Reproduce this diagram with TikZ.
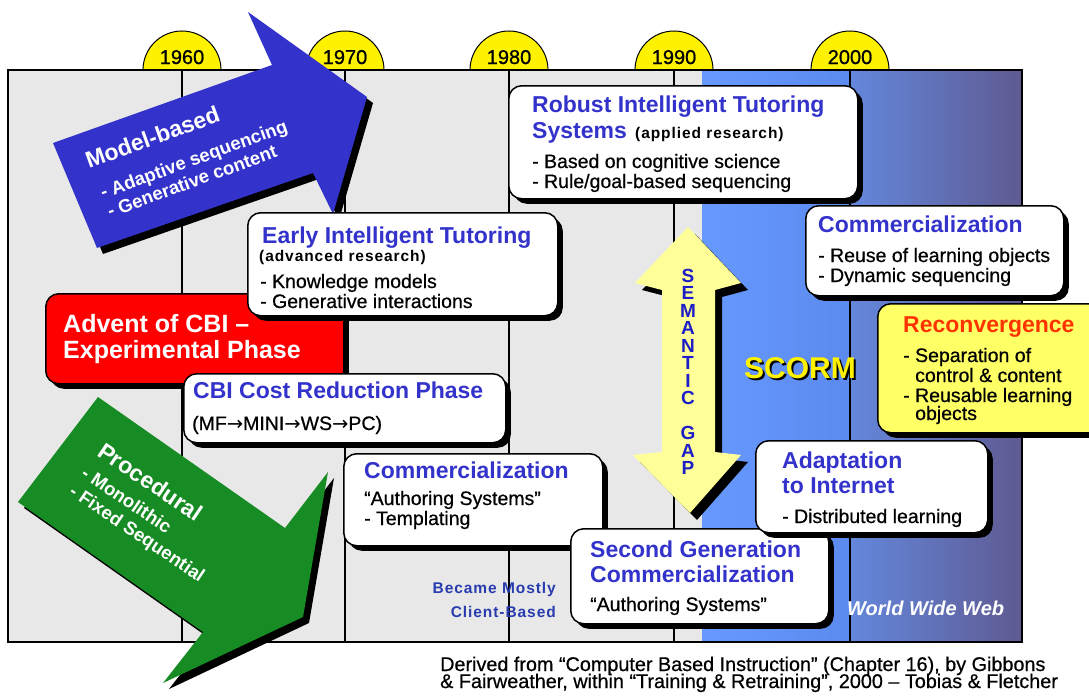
\documentclass[tikz,border=0pt]{standalone}
\usepackage{fontspec}
\setmainfont{Liberation Sans}
\newfontfamily\arrowfont{DejaVu Sans}
\usetikzlibrary{shadows}
\definecolor{ttlblue}{RGB}{51,51,204}
\definecolor{modelblue}{RGB}{51,51,204}
\definecolor{procgreen}{RGB}{24,140,36}
\definecolor{gapyellow}{RGB}{255,255,153}
\definecolor{reconyellow}{RGB}{255,255,102}
\definecolor{reconred}{RGB}{255,51,0}
\definecolor{gapblue}{RGB}{30,30,200}
\definecolor{clientblue}{RGB}{40,60,175}
\definecolor{bggray}{RGB}{232,232,232}
\definecolor{lblueL}{RGB}{102,153,255}
\definecolor{lblueR}{RGB}{92,138,238}
\definecolor{dblueL}{RGB}{100,135,220}
\definecolor{dblueR}{RGB}{95,90,145}
\def\decade(#1)#2{\draw[fill=yellow, line width=1pt] (#1,70) ++(-39,0) arc (180:360:39) -- cycle;
	\node[yr] (y#2) at (#1,64) {#2};}
\def\to{{\arrowfont →}}

\begin{document}
\begin{tikzpicture}[x=1pt, y=-1pt,
	tbox/.style={draw, line width=1.5pt, fill=white, rounded corners=13pt, anchor=north west, inner sep=0pt,
		drop shadow={shadow xshift=5pt, shadow yshift=-5pt, fill=black, opacity=1}},
	shd/.style={drop shadow={shadow xshift=#1, shadow yshift=-#1, fill=black, opacity=1}},
	ttl/.style={anchor=base west, inner sep=0pt, text=ttlblue, font=\fontsize{23}{26}\selectfont\bfseries},
	bdy/.style={anchor=base west, inner sep=0pt, font=\fontsize{19.5}{22}\selectfont\addfontfeatures{FakeBold=0.6}},
	sml/.style={anchor=base west, inner sep=0pt, font=\fontsize{15.5}{18}\selectfont\bfseries\addfontfeatures{LetterSpace=6}},
	yr/.style={anchor=base, inner sep=0pt, font=\fontsize{20}{22}\selectfont\addfontfeatures{FakeBold=0.8}},
	arrt/.style={anchor=base west, inner sep=0pt, text=white, font=\fontsize{23}{26}\selectfont\bfseries},
	arri/.style={anchor=base west, inner sep=0pt, text=white, font=\fontsize{18.5}{20}\selectfont\bfseries}]
		\useasboundingbox (0,0) rectangle (1089,696);
		%%%%% START %%%%%
		\fill[bggray] (8,70) rectangle (702,642);
		\shade[left color=lblueL, right color=lblueR] (702,70) rectangle (850,642);
		\shade[left color=dblueL, right color=dblueR] (850,70) rectangle (1022,642);
		
		\decade(182){1960}
		\decade(345){1970}
		\decade(509){1980}
		\decade(674){1990}
		\decade(850){2000}
		
		\draw[line width=1.5pt] (182,70) -- (182,642);
		\draw[line width=1.5pt] (345,70) -- (345,642);
		\draw[line width=1.5pt] (509,70) -- (509,642);
		\draw[line width=1.5pt] (674,70) -- (674,642);
		\draw[line width=1.5pt] (850,70) -- (850,642);
		\draw[line width=1.5pt] (8,70) rectangle (1022,642);
		
		\fill[modelblue, shd=6pt] (53,143) -- (272,65) -- (248,12) -- (367,97) -- (333,214) -- (313,173) -- (97,248) -- cycle;
		\node[arrt, rotate=20] (model) at (89,169) {Model-based};
		\node[arri, rotate=20] (model-1) at (103,199) {- Adaptive sequencing};
		\node[arri, rotate=20] (model-2) at (110,218) {- Generative content};
		
		\fill[procgreen, shd=6pt] (98,397) -- (285,528) -- (328,472) -- (303,617) -- (163,683) -- (203,632) -- (18,502) -- cycle;
		\node[arrt, rotate=-34] (proc) at (96,455) {Procedural};
		\node[arri, rotate=-34] (proc-1) at (80,476) {- Monolithic};
		\node[arri, rotate=-34] (proc-2) at (68,494) {- Fixed Sequential};
		
		\node[tbox, minimum width=349pt, minimum height=113pt] (robust) at (508,85) {};
		\node[ttl] (robust-t1) at (532,112) {Robust Intelligent Tutoring};
		\node[ttl] (robust-t2) at (532,138) {Systems};
		\node[sml] (robust-r) at (635,138) {(applied research)};
		\node[bdy] (robust-1) at (532,168) {- Based on cognitive science};
		\node[bdy] (robust-2) at (532,188) {- Rule/goal-based sequencing};
		
		\node[tbox, fill=red, minimum width=298pt, minimum height=90pt] (advent) at (45,293) {};
		\node[arrt, font=\fontsize{25}{28}\selectfont\bfseries] (advent-1) at (63,332) {Advent of CBI –};
		\node[arrt, font=\fontsize{25}{28}\selectfont\bfseries] (advent-2) at (63,358) {Experimental Phase};
		
		\node[tbox, minimum width=310pt, minimum height=103pt] (early) at (247,212) {};
		\node[ttl] (early-t) at (262,243) {Early Intelligent Tutoring};
		\node[sml] (early-r) at (259,261) {(advanced research)};
		\node[bdy] (early-1) at (260,288) {- Knowledge models};
		\node[bdy] (early-2) at (260,308) {- Generative interactions};
		
		\node[tbox, minimum width=322pt, minimum height=69pt] (cost) at (183,373) {};
		\node[ttl] (cost-t) at (193,398) {CBI Cost Reduction Phase};
		\node[bdy] (cost-1) at (192,430) {(MF\to MINI\to WS\to PC)};
		
		\node[tbox, minimum width=258pt, minimum height=90pt] (reuse) at (805,205) {};
		\node[ttl] (reuse-t) at (818,232) {Commercialization};
		\node[bdy] (reuse-1) at (818,262) {- Reuse of learning objects};
		\node[bdy] (reuse-2) at (818,282) {- Dynamic sequencing};
		
		\node[tbox, fill=reconyellow, minimum width=225pt, minimum height=129pt] (recon) at (877,303) {};
		\node[ttl, text=reconred] (recon-t) at (903,332) {Reconvergence};
		\node[bdy] (recon-1) at (903,362) {- Separation of};
		\node[bdy] (recon-2) at (915,382) {control \& content};
		\node[bdy] (recon-3) at (903,402) {- Reusable learning};
		\node[bdy] (recon-4) at (915,420) {objects};
		
		\node[tbox, minimum width=259pt, minimum height=92pt] (authoring) at (343,453) {};
		\node[ttl] (authoring-t) at (364,478) {Commercialization};
		\node[bdy] (authoring-1) at (364,505) {“Authoring Systems”};
		\node[bdy] (authoring-2) at (364,525) {- Templating};
		
		\node[sml, anchor=base east, text=clientblue] (client-1) at (556,593) {Became Mostly};
		\node[sml, anchor=base east, text=clientblue] (client-2) at (556,617) {Client-Based};
		
		\node[tbox, minimum width=258pt, minimum height=95pt] (second) at (570,528) {};
		\node[ttl] (second-t1) at (590,557) {Second Generation};
		\node[ttl] (second-t2) at (590,582) {Commercialization};
		\node[bdy] (second-1) at (590,611) {“Authoring Systems”};
		
		\node[tbox, minimum width=232pt, minimum height=92pt] (internet) at (755,440) {};
		\node[ttl] (internet-t1) at (782,468) {Adaptation};
		\node[ttl] (internet-t2) at (782,493) {to Internet};
		\node[bdy] (internet-1) at (782,523) {- Distributed learning};
		
		\fill[gapyellow, shd=7pt] (688,227) -- (741,283) -- (715,290) -- (715,452) -- (741,455) -- (690,513) -- (633,455) -- (662,452) -- (662,290) -- (635,283) -- cycle;
		\node[align=center, inner sep=0pt, text=gapblue, font=\fontsize{19}{17.5}\selectfont\bfseries] (gap) at (688,372) {S\\E\\M\\A\\N\\T\\I\\C\\[17.5pt]G\\A\\P};
		
		\node[font=\fontsize{30}{30}\selectfont\bfseries, text=black] (scorm-s) at (802,370) {SCORM};
		\node[font=\fontsize{30}{30}\selectfont\bfseries, text=yellow] (scorm) at (800,368) {SCORM};
		
		\node[anchor=base west, inner sep=0pt, text=white, font=\fontsize{20}{22}\selectfont\bfseries\itshape] (www) at (847,615) {World Wide Web};
		
		\node[bdy, font=\fontsize{19.8}{22}\selectfont\addfontfeatures{FakeBold=0.6}] (source-1) at (440,671) {Derived from “Computer Based Instruction” (Chapter 16), by Gibbons};
		\node[bdy, font=\fontsize{19.8}{22}\selectfont\addfontfeatures{FakeBold=0.6}] (source-2) at (440,688) {\& Fairweather, within “Training \& Retraining”, 2000 – Tobias \& Fletcher};
		%%%%% END %%%%%
\end{tikzpicture}
\end{document}
